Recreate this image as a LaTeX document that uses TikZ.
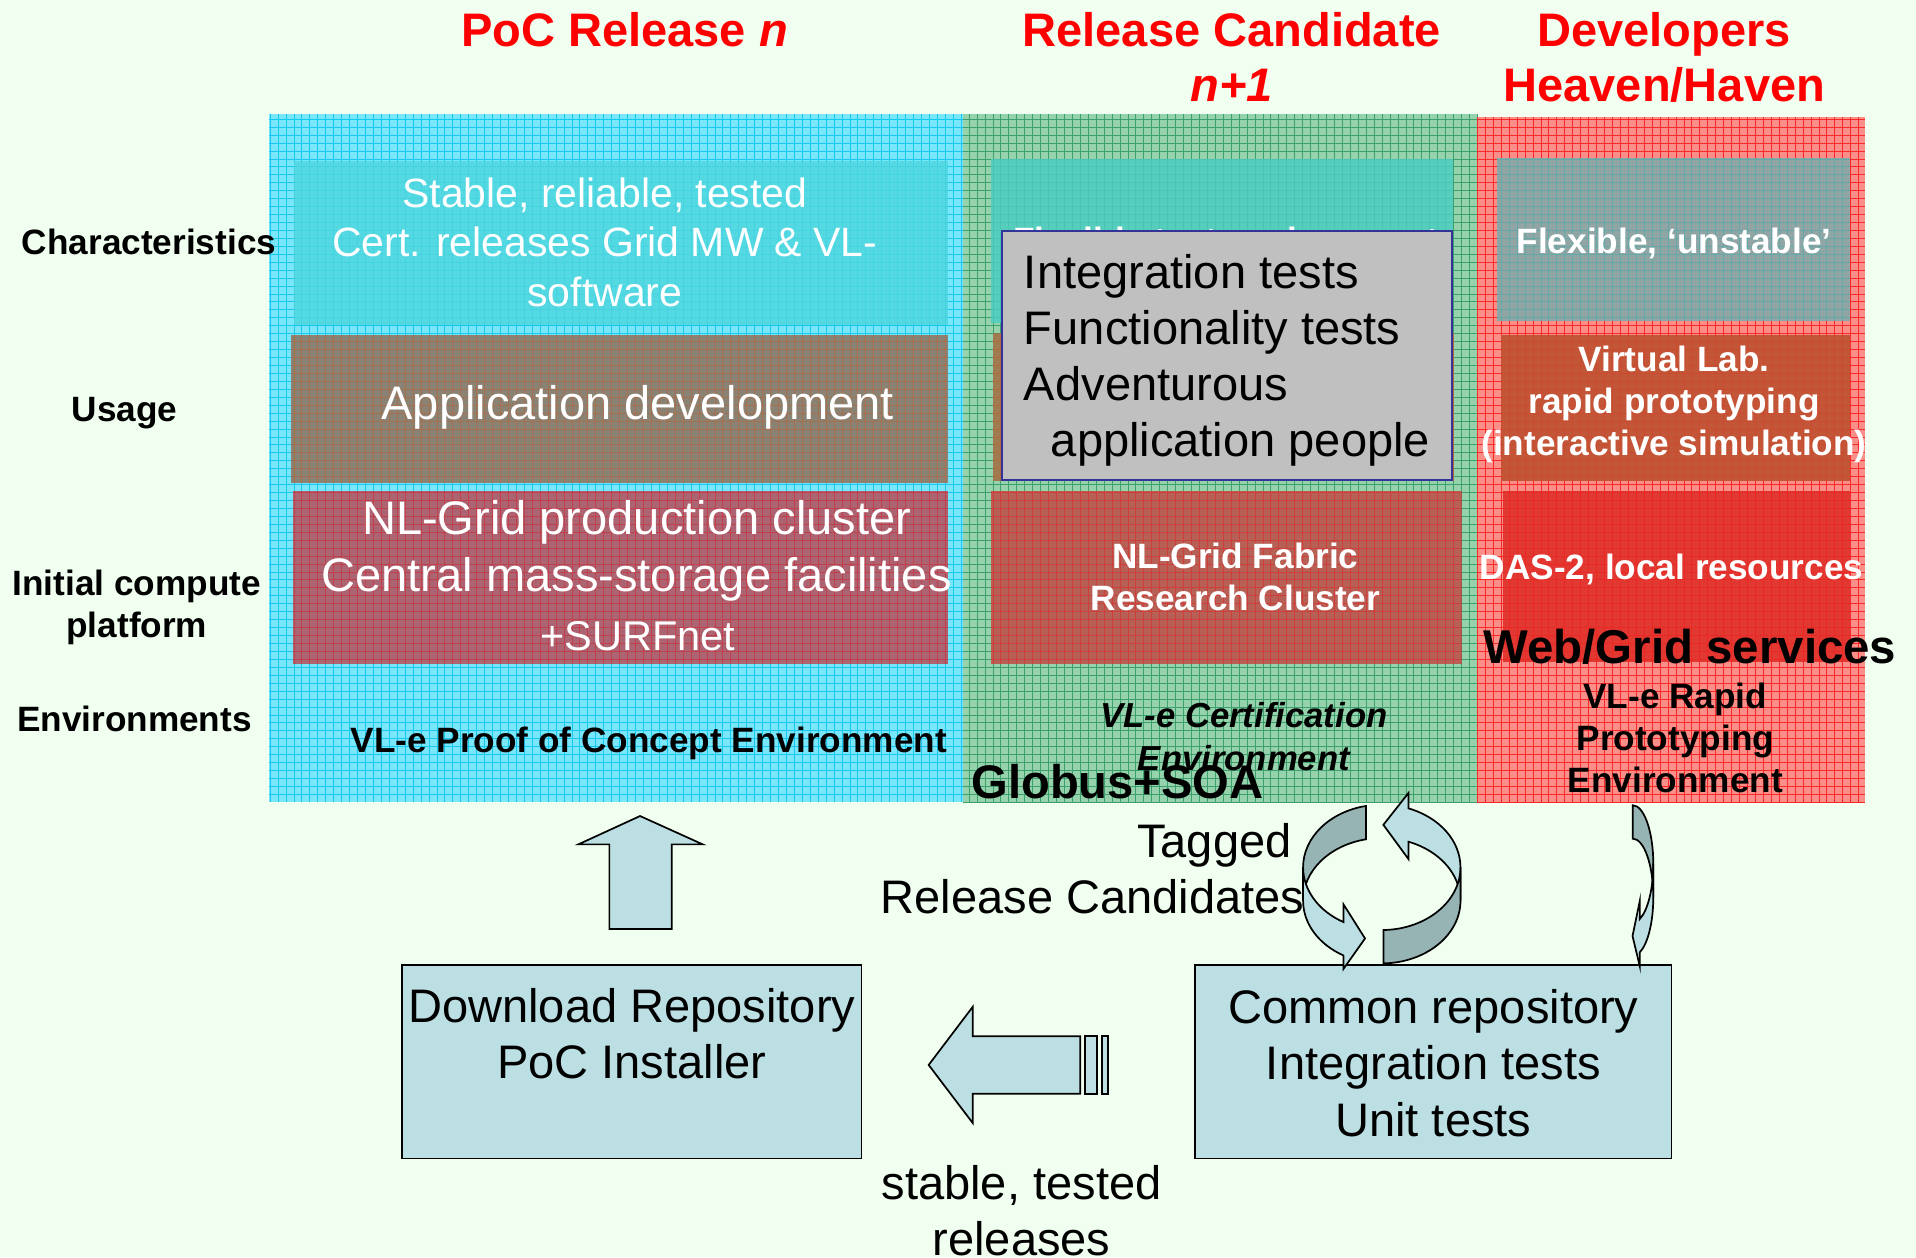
\documentclass[tikz,border=0pt]{standalone}
\usepackage{fontspec}
\setmainfont{Liberation Sans}
\definecolor{bgmint}{RGB}{240,255,240}
\definecolor{cyanP}{RGB}{122,230,250}
\definecolor{cyanL}{RGB}{20,200,240}
\definecolor{cyanChar}{RGB}{78,214,222}
\definecolor{cyanUse}{RGB}{138,130,114}
\definecolor{cyanUseL}{RGB}{200,90,40}
\definecolor{cyanComp}{RGB}{172,100,114}
\definecolor{cyanCompL}{RGB}{210,40,50}
\definecolor{greenP}{RGB}{150,210,172}
\definecolor{greenL}{RGB}{60,160,110}
\definecolor{greenChar}{RGB}{75,205,192}
\definecolor{greenUse}{RGB}{160,122,80}
\definecolor{greenComp}{RGB}{182,96,86}
\definecolor{greenCompL}{RGB}{225,40,40}
\definecolor{redP}{RGB}{250,142,136}
\definecolor{redL}{RGB}{250,40,40}
\definecolor{redChar}{RGB}{145,165,165}
\definecolor{redCharL}{RGB}{70,170,170}
\definecolor{redUse}{RGB}{195,86,56}
\definecolor{redUseL}{RGB}{205,70,40}
\definecolor{redComp}{RGB}{226,56,50}
\definecolor{redCompL}{RGB}{240,30,30}
\definecolor{grayBox}{RGB}{192,192,192}
\definecolor{grayEdge}{RGB}{51,51,153}
\definecolor{lightArrow}{RGB}{188,223,228}
\definecolor{darkArrow}{RGB}{150,180,180}
\begin{document}
\begin{tikzpicture}[x=1pt,y=-1pt,
  every node/.style={inner sep=0pt,outer sep=0pt},
  hdr/.style={text=red,font=\fontsize{38.5}{45}\selectfont\bfseries,align=center},
  lbl/.style={font=\fontsize{28.8}{34.5}\selectfont\bfseries,align=center},
  wbold/.style={text=white,font=\fontsize{28.8}{34.5}\selectfont\bfseries,align=center},
  wreg/.style={text=white,font=\fontsize{38.5}{46.5}\selectfont,align=center},
  big/.style={font=\fontsize{38.5}{46}\selectfont,align=center},
  gl/.style={line width=0.55pt,step=6.5pt},
  shapeline/.style={draw=black,line width=1.4pt,line join=miter},
  repobox/.style={fill=lightArrow,draw=black,line width=1.4pt,anchor=north west},
  ell/.style={x radius=64.4pt,y radius=51.3pt},
  sell/.style={x radius=16.9pt,y radius=48pt}
]
\fill[bgmint] (0,0) rectangle (1568,1029);
\useasboundingbox (0,0) rectangle (1568,1029);

% ---------- panels ----------
\fill[cyanP] (220,93) rectangle (788,656);
\draw[gl,cyanL] (220,656) grid (788,93);
\fill[greenP] (788,93) rectangle (1209,657);
\draw[gl,greenL] (788,657) grid (1209,93);
\fill[redP] (1209,96) rectangle (1526,657);
\draw[gl,redL] (1209,657) grid (1526,96);

% ---------- cyan panel boxes ----------
\fill[cyanChar,opacity=0.85] (241,132) rectangle (776,266);
\fill[cyanUse] (238,274) rectangle (776,395);
\draw[gl,cyanUseL,opacity=0.45] (238,395) grid (776,274);
\fill[cyanComp] (240,402) rectangle (776,543);
\draw[gl,cyanCompL,opacity=0.6] (240,543) grid (776,402);

% ---------- green panel boxes ----------
\fill[greenChar,opacity=0.85] (811,130) rectangle (1189,264);
\fill[greenUse] (813,273) rectangle (1190,394);
\draw[gl,cyanUseL,opacity=0.5] (813,394) grid (1190,273);
\fill[greenComp] (811,402) rectangle (1196,543);
\draw[gl,greenCompL,opacity=0.6] (811,543) grid (1196,402);

% ---------- red panel boxes ----------
\fill[redChar] (1225,129) rectangle (1514,263);
\draw[gl,redCharL,opacity=0.6] (1225,263) grid (1514,129);
\fill[redUse] (1228,274) rectangle (1514,394);
\draw[gl,redUseL,opacity=0.6] (1228,394) grid (1514,274);
\fill[redComp] (1230,402) rectangle (1514,542);
\draw[gl,redCompL,opacity=0.6] (1230,542) grid (1514,402);

% ---------- headers ----------
\node[hdr] (h1) at (511,24) {PoC Release \textit{n}};
\node[hdr] (h2) at (1008,47) {Release Candidate\\\textit{n+1}};
\node[hdr] (h3) at (1362,47) {Developers\\Heaven/Haven};

% ---------- row labels ----------
\node[lbl] (lc) at (122,198) {Characteristics};
\node[lbl] (lu) at (102,338) {Usage};
\node[lbl] (li) at (112,497) {Initial compute\\platform};
\node[lbl] (le) at (110,588) {Environments};

% ---------- cyan panel texts ----------
\node[text=white,font=\fontsize{33.5}{40.5}\selectfont,align=center] (cchar) at (495,198) {Stable, reliable, tested\\Cert. releases Grid MW \& VL-\\software};
\node[wreg] (cuse) at (522,333) {Application development};
\node[wreg] (ccomp) at (521,451) {NL-Grid production cluster\\Central mass-storage facilities};
\node[text=white,font=\fontsize{34}{40}\selectfont] (csurf) at (522,521) {+SURFnet};
\node[lbl] (cenv) at (531,608) {VL-e Proof of Concept Environment};

% ---------- green panel texts ----------
\node[wbold] (gflex) at (1003,196) {Flexible test environment};
\node[fill=grayBox,draw=grayEdge,line width=1.8pt,minimum width=368,minimum height=204,anchor=north west] (gray) at (820,189) {};
\node[font=\fontsize{38.5}{46}\selectfont,align=left,anchor=west] (gtxt) at (838,295) {Integration tests\\Functionality tests\\Adventurous\\\hspace*{22pt}application people};
\node[wbold] (gcomp) at (1011,472) {NL-Grid Fabric\\Research Cluster};
\node[font=\fontsize{28.4}{35}\selectfont\bfseries\itshape,align=center] (genv) at (1018,603) {VL-e Certification\\Environment};

% ---------- red panel texts ----------
\node[wbold] (rchar) at (1370,199) {Flexible, ‘unstable’};
\node[wbold] (ruse) at (1370,331) {Virtual Lab.\\rapid prototyping\\(interactive simulation)};
\node[wbold] (rcomp) at (1368,466) {DAS-2, local resources};
\node[lbl] (renv) at (1371,604) {VL-e Rapid\\Prototyping\\Environment};

% ---------- bottom boxes ----------
\node[repobox,minimum width=376,minimum height=158] (dl) at (329,790) {};
\node[big] (dltxt) at (517,846) {Download Repository\\PoC Installer};
\node[repobox,minimum width=390,minimum height=158] (cr) at (978,790) {};
\node[big] (crtxt) at (1173,870) {Common repository\\Integration tests\\Unit tests};

% ---------- block arrows ----------
\draw[shapeline,fill=lightArrow] (498.7,760.3) -- (498.7,691) -- (473.3,691) -- (523.8,667.8) -- (575.1,691) -- (549.7,691) -- (549.7,760.3) -- cycle;
\draw[shapeline,fill=lightArrow] (884,848) -- (796,848) -- (796,824) -- (760,871.5) -- (796,919) -- (796,895) -- (884,895) -- cycle;
\draw[shapeline,fill=lightArrow] (888,848) rectangle (898,895);
\draw[shapeline,fill=lightArrow] (902,848) rectangle (907,895);

% ---------- circular arrows ----------
\draw[shapeline,fill=darkArrow] (1117.96,659.53) arc[start angle=101.5,end angle=180,ell] -- (1066.4,737.1) arc[start angle=180,end angle=101.5,ell] -- cycle;
\draw[shapeline,fill=lightArrow] (1152.61,661.53) -- (1152.6,649) -- (1132.1,675) -- (1152.6,703) -- (1152.61,688.83) arc[start angle=70.2,end angle=0,ell] -- (1195.2,709.8) arc[start angle=0,end angle=70.2,ell] -- cycle;
\draw[shapeline,fill=lightArrow] (1066.4,709.8) arc[start angle=180,end angle=240.8,ell] -- (1099.4,740) -- (1117.1,768) -- (1099.4,793) -- (1099.38,781.88) arc[start angle=240.8,end angle=180,ell] -- cycle;
\draw[shapeline,fill=darkArrow] (1195.2,709.8) arc[start angle=360,end angle=271.2,ell] -- (1132.15,788.39) arc[start angle=271.2,end angle=360,ell] -- cycle;
\draw[shapeline,fill=darkArrow] (1336.1,659) arc[start angle=90,end angle=0,sell] -- (1353,734.3) arc[start angle=0,end angle=90,sell] -- cycle;
\draw[shapeline,fill=lightArrow] (1353,707) arc[start angle=360,end angle=290.4,sell] -- (1342,737) -- (1336,766) -- (1342,791) -- (1341.99,779.29) arc[start angle=290.4,end angle=360,sell] -- cycle;

% ---------- overlaid texts ----------
\node[font=\fontsize{38.6}{46}\selectfont\bfseries,anchor=west] (glob) at (795,640) {Globus+SOA};
\node[font=\fontsize{38.8}{46}\selectfont\bfseries] (wgs) at (1383,529) {Web/Grid services};
\node[big,align=right,anchor=east] (tag) at (1067.6,711) {Tagged\hspace*{10.6pt}\\Release Candidates};
\node[big] (stab) at (836,991) {stable, tested\\releases};
\end{tikzpicture}
\end{document}
